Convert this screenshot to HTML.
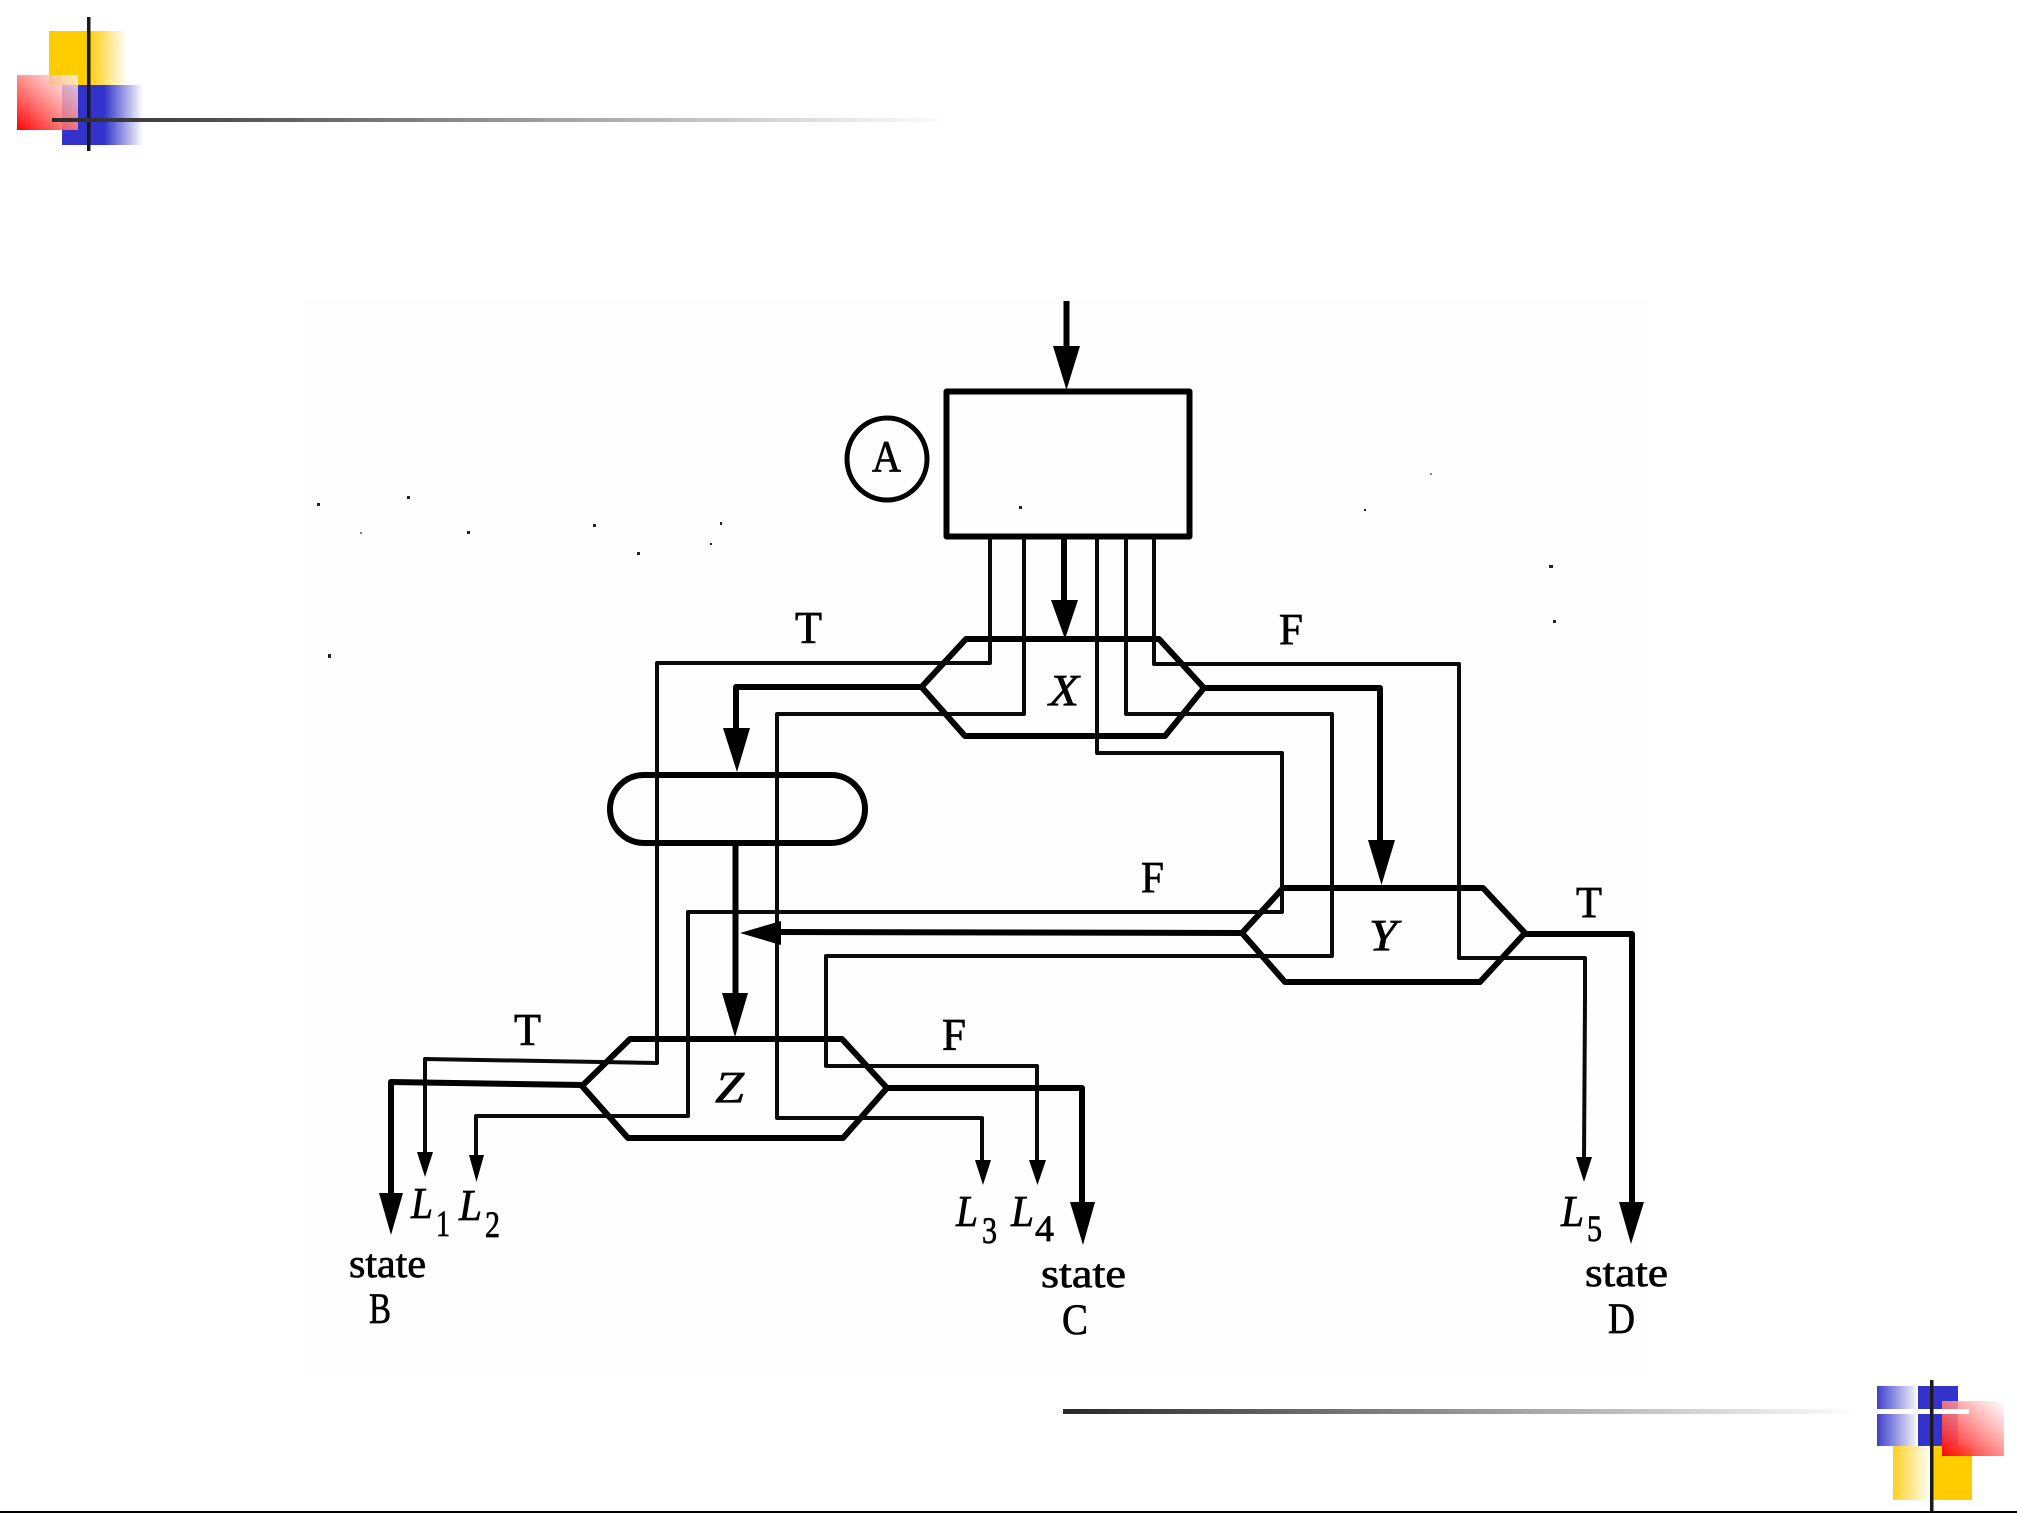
<!DOCTYPE html>
<html>
<head>
<meta charset="utf-8">
<style>
html,body{margin:0;padding:0;background:#fff;width:2017px;height:1513px;overflow:hidden}
svg{display:block}
text{font-family:"Liberation Serif",serif;fill:#000;stroke:#000;stroke-width:.7}
.w{fill:none;stroke:#0a0a0a;stroke-width:4;stroke-linejoin:round}
.t{fill:none;stroke:#000;stroke-width:6;stroke-linejoin:round}
.h{fill:none;stroke:#000;stroke-width:6;stroke-linejoin:round}
</style>
</head>
<body>
<svg width="2017" height="1513" viewBox="0 0 2017 1513" xmlns="http://www.w3.org/2000/svg">
<defs>
<linearGradient id="yl"><stop offset="0" stop-color="#ffcc00"/><stop offset=".5" stop-color="#ffcc00"/><stop offset="1" stop-color="#fff"/></linearGradient>
<linearGradient id="bl"><stop offset="0" stop-color="#3333cc"/><stop offset=".52" stop-color="#3333cc"/><stop offset="1" stop-color="#fff"/></linearGradient>
<linearGradient id="rd" x1="0" y1="1" x2="1" y2="0"><stop offset="0" stop-color="#ff0000"/><stop offset="1" stop-color="#ffffff" stop-opacity=".75"/></linearGradient>
<linearGradient id="ln1"><stop offset="0" stop-color="#292929"/><stop offset="1" stop-color="#fff"/></linearGradient>
<linearGradient id="ln2"><stop offset="0" stop-color="#292929"/><stop offset=".88" stop-color="#fff"/><stop offset="1" stop-color="#fff"/></linearGradient>
<linearGradient id="bl2"><stop offset="0" stop-color="#3f3fcc"/><stop offset="1" stop-color="#f2f2fb"/></linearGradient>
<linearGradient id="yl2"><stop offset="0" stop-color="#ffd020"/><stop offset="1" stop-color="#fff"/></linearGradient>
</defs>

<rect x="305" y="300" width="1345" height="1075" fill="#fefefe"/>

<!-- top-left decoration -->
<rect x="49" y="31" width="78" height="54" fill="url(#yl)"/>
<rect x="62" y="85" width="81" height="60" fill="url(#bl)"/>
<rect x="17" y="75" width="61" height="55" fill="url(#rd)"/>
<rect x="87" y="17" width="3.5" height="134" fill="#1a1a1a"/>
<rect x="52" y="118" width="898" height="4" fill="url(#ln1)"/>

<!-- bottom-right decoration -->
<rect x="1877" y="1386" width="39" height="60" fill="url(#bl2)"/>
<rect x="1918" y="1386" width="40" height="60" fill="#3333cc"/>
<rect x="1893" y="1446" width="38" height="54" fill="url(#yl2)"/>
<rect x="1932" y="1446" width="40" height="54" fill="#ffcc00"/>
<rect x="1942" y="1401" width="62" height="55" fill="url(#rd)"/>
<rect x="1063" y="1409" width="906" height="5" fill="url(#ln2)"/>
<rect x="1930" y="1380" width="3.5" height="133" fill="#1a1a1a"/>
<rect x="0" y="1511" width="2017" height="2" fill="#000"/>

<!-- input arrow -->
<line class="t" x1="1066.5" y1="301" x2="1066.5" y2="350"/>
<polygon points="1053,346 1080,346 1066.5,390"/>

<!-- main box -->
<rect class="t" x="946.5" y="391.5" width="243" height="145"/>

<!-- circle A -->
<ellipse cx="887" cy="459" rx="40" ry="41" fill="none" stroke="#000" stroke-width="5"/>
<text x="872" y="471" font-size="44" textLength="29" lengthAdjust="spacingAndGlyphs">A</text>

<!-- hexagons -->
<polygon class="h" points="921.5,687 966,639 1159,639 1204,688 1165,736 965,736"/>
<polygon class="h" points="1242,933 1283,888 1483,888 1525,933 1480,982 1285,982"/>
<polygon class="h" points="582,1086 630,1039 842,1039 887,1088 843,1138 628,1138"/>

<!-- capsule -->
<rect class="t" x="610" y="775" width="255" height="68" rx="34" ry="34"/>

<!-- thin wires -->
<path class="w" d="M990,537 V663 H657 V1063 L425,1059 V1155"/>
<path class="w" d="M1024,537 V714 H777 V1118 H982 V1165"/>
<path class="w" d="M1097,537 V753 H1282 V912 H688 V1116 H476 V1160"/>
<path class="w" d="M1126,537 V714 H1332 V956 H826 V1066 H1037 V1165"/>
<path class="w" d="M1154,537 V664 H1459 V958 H1585 V1000 L1584,1160"/>

<!-- thick wires -->
<line class="t" x1="1064" y1="537" x2="1064" y2="605"/>
<polygon points="1051,600 1078,600 1065,639"/>
<path class="t" d="M921.5,687 H736 V732"/>
<polygon points="723,728 750,728 737,772"/>
<line class="t" x1="735.5" y1="843" x2="735.5" y2="997"/>
<polygon points="722,993 748,993 735,1037"/>
<path class="t" d="M1204,688 H1380 V845"/>
<polygon points="1368,840 1395,840 1381.5,885"/>
<line class="t" x1="1242" y1="933" x2="778" y2="932"/>
<polygon points="740,933 781,921 781,945"/>
<path class="t" d="M1525,934 H1632 V1206"/>
<polygon points="1619,1202 1644,1202 1631,1244"/>
<path class="t" d="M887,1088 H1082 V1206"/>
<polygon points="1070,1202 1095,1202 1083,1245"/>
<path class="t" d="M582,1085 L391,1082 V1197"/>
<polygon points="379,1193 403,1193 391,1235"/>

<!-- small arrowheads -->
<polygon points="417,1152 433,1152 425,1177"/>
<polygon points="469,1155 484,1155 476.5,1182"/>
<polygon points="975,1160 991,1160 983,1185"/>
<polygon points="1029,1160 1046,1160 1037.5,1185"/>
<polygon points="1576,1157 1592,1157 1584,1182"/>

<!-- labels -->
<text x="795" y="643" font-size="45" textLength="27" lengthAdjust="spacingAndGlyphs">T</text>
<text x="1279" y="644" font-size="44" textLength="24" lengthAdjust="spacingAndGlyphs">F</text>
<text x="1141" y="892" font-size="44" textLength="23" lengthAdjust="spacingAndGlyphs">F</text>
<text x="1576" y="917" font-size="44" textLength="26" lengthAdjust="spacingAndGlyphs">T</text>
<text x="514" y="1045" font-size="45" textLength="27" lengthAdjust="spacingAndGlyphs">T</text>
<text x="942" y="1050" font-size="45" textLength="24" lengthAdjust="spacingAndGlyphs">F</text>
<text x="1049" y="705" font-size="44" font-style="italic" textLength="30" lengthAdjust="spacingAndGlyphs">X</text>
<text x="1369" y="950" font-size="44" font-style="italic" textLength="28" lengthAdjust="spacingAndGlyphs">Y</text>
<text x="715" y="1102" font-size="44" font-style="italic" textLength="29" lengthAdjust="spacingAndGlyphs">Z</text>

<text x="411" y="1218" font-size="44" font-style="italic" textLength="22" lengthAdjust="spacingAndGlyphs">L</text>
<text x="436" y="1236" font-size="37" textLength="14" lengthAdjust="spacingAndGlyphs">1</text>
<text x="459" y="1220" font-size="44" font-style="italic" textLength="23" lengthAdjust="spacingAndGlyphs">L</text>
<text x="485" y="1237" font-size="37" textLength="15" lengthAdjust="spacingAndGlyphs">2</text>
<text x="956" y="1226" font-size="44" font-style="italic" textLength="22" lengthAdjust="spacingAndGlyphs">L</text>
<text x="982" y="1243" font-size="37" textLength="15" lengthAdjust="spacingAndGlyphs">3</text>
<text x="1011" y="1226" font-size="44" font-style="italic" textLength="23" lengthAdjust="spacingAndGlyphs">L</text>
<text x="1035" y="1241" font-size="37" textLength="19" lengthAdjust="spacingAndGlyphs">4</text>
<text x="1561" y="1226" font-size="44" font-style="italic" textLength="23" lengthAdjust="spacingAndGlyphs">L</text>
<text x="1587" y="1241" font-size="37" textLength="15" lengthAdjust="spacingAndGlyphs">5</text>

<text x="349" y="1277" font-size="40" textLength="77" lengthAdjust="spacingAndGlyphs">state</text>
<text x="369" y="1323" font-size="43" textLength="22" lengthAdjust="spacingAndGlyphs">B</text>
<text x="1041" y="1287" font-size="40" textLength="85" lengthAdjust="spacingAndGlyphs">state</text>
<text x="1062" y="1334" font-size="43" textLength="26" lengthAdjust="spacingAndGlyphs">C</text>
<text x="1585" y="1286" font-size="40" textLength="83" lengthAdjust="spacingAndGlyphs">state</text>
<text x="1608" y="1333" font-size="43" textLength="27" lengthAdjust="spacingAndGlyphs">D</text>

<!-- scan specks -->
<g fill="#222">
<rect x="317" y="503" width="3" height="3"/><rect x="407" y="496" width="3" height="3"/>
<rect x="360" y="532" width="2" height="2" fill="#888"/><rect x="467" y="531" width="3" height="3"/>
<rect x="593" y="524" width="3" height="3"/><rect x="720" y="522" width="2" height="3"/>
<rect x="710" y="543" width="2" height="2"/><rect x="637" y="552" width="3" height="3"/>
<rect x="328" y="654" width="3" height="4"/><rect x="1019" y="506" width="3" height="3"/>
<rect x="1430" y="473" width="2" height="2" fill="#888"/><rect x="1364" y="509" width="2" height="2"/>
<rect x="1549" y="565" width="4" height="3"/><rect x="1553" y="620" width="3" height="3"/>
</g>
</svg>
</body>
</html>
